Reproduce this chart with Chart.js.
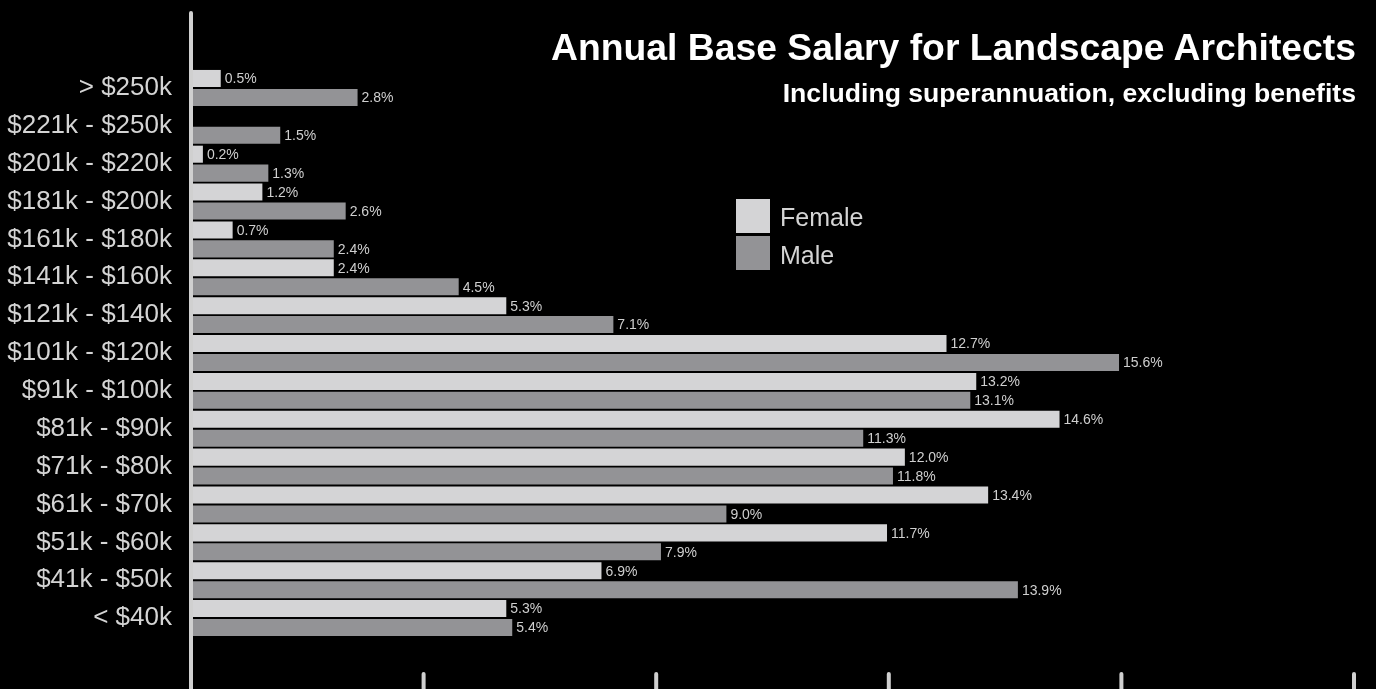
<!DOCTYPE html>
<html>
<head>
<meta charset="utf-8">
<title>Annual Base Salary for Landscape Architects</title>
<script src="https://cdn.jsdelivr.net/npm/chart.js@4/dist/chart.umd.min.js"></script>
<style>
  html, body { margin: 0; padding: 0; background: #000; }
  #wrap { position: relative; width: 1376px; height: 689px; overflow: hidden; font-family: "Liberation Sans", Arial, sans-serif; }
  #salary-chart { position: absolute; left: 0; top: 0; }
  .heading { position: absolute; right: 20px; color: #fff; font-weight: bold; line-height: 1; white-space: nowrap; }
  #title { top: 29px; font-size: 37.3px; }
  #subtitle { top: 80px; font-size: 26.6px; }
  #legend { position: absolute; left: 736px; top: 199px; }
  .legend-item { position: relative; height: 37px; }
  .legend-box { position: absolute; left: 0; top: 0; width: 34px; height: 34px; }
  .legend-text { position: absolute; left: 44px; top: 6px; color: #d4d4d4; font-size: 25px; line-height: 1; white-space: nowrap; }
  .legend-item + .legend-item .legend-text { top: 7px; }
</style>
</head>
<body>
<div id="wrap">
  <canvas id="salary-chart" width="1376" height="689"></canvas>
  <div id="title" class="heading">Annual Base Salary for Landscape Architects</div>
  <div id="subtitle" class="heading">Including superannuation, excluding benefits</div>
  <div id="legend"></div>
</div>
<script>
const salaryBands = ['> $250k', '$221k - $250k', '$201k - $220k', '$181k - $200k', '$161k - $180k',
  '$141k - $160k', '$121k - $140k', '$101k - $120k', '$91k - $100k', '$81k - $90k',
  '$71k - $80k', '$61k - $70k', '$51k - $60k', '$41k - $50k', '< $40k'];
const femaleShare = [0.5, null, 0.2, 1.2, 0.7, 2.4, 5.3, 12.7, 13.2, 14.6, 12.0, 13.4, 11.7, 6.9, 5.3];
const maleShare = [2.8, 1.5, 1.3, 2.6, 2.4, 4.5, 7.1, 15.6, 13.1, 11.3, 11.8, 9.0, 7.9, 13.9, 5.4];

const femaleColor = '#d4d4d6';
const maleColor = '#939396';
const textColor = '#d4d4d4';

// legend built from the datasets
const legendEl = document.getElementById('legend');
[['Female', femaleColor], ['Male', maleColor]].forEach(function(item) {
  const row = document.createElement('div');
  row.className = 'legend-item';
  row.innerHTML = '<div class="legend-box" style="background:' + item[1] + '"></div>' +
    '<div class="legend-text">' + item[0] + '</div>';
  legendEl.appendChild(row);
});

// percentage text at the end of each bar
const barLabels = {
  id: 'barLabels',
  afterDatasetsDraw(chart) {
    const ctx = chart.ctx;
    ctx.save();
    ctx.font = '14px "Liberation Sans", Arial, sans-serif';
    ctx.fillStyle = '#cfcfcf';
    ctx.textAlign = 'left';
    ctx.textBaseline = 'middle';
    chart.data.datasets.forEach(function(ds, i) {
      chart.getDatasetMeta(i).data.forEach(function(bar, j) {
        const v = ds.data[j];
        if (v === null) return;
        ctx.fillText(v.toFixed(1) + '%', bar.x + 4, bar.y + 1);
      });
    });
    ctx.restore();
  }
};

// long vertical axis line and the short tick marks along the bottom
const axisMarks = {
  id: 'axisMarks',
  afterDatasetsDraw(chart) {
    const ctx = chart.ctx;
    const x = chart.scales.x;
    ctx.save();
    ctx.strokeStyle = '#d0d0d0';
    ctx.lineWidth = 4;
    ctx.lineCap = 'round';
    ctx.beginPath();
    ctx.moveTo(x.getPixelForValue(0), 13);
    ctx.lineTo(x.getPixelForValue(0), chart.height + 4);
    x.ticks.forEach(function(t) {
      const px = x.getPixelForValue(t.value);
      ctx.moveTo(px, chart.height - 15);
      ctx.lineTo(px, chart.height + 4);
    });
    ctx.stroke();
    ctx.restore();
  }
};

const ctx = document.getElementById('salary-chart').getContext('2d');
const salaryChart = new Chart(ctx, {
  type: 'bar',
  data: {
    labels: salaryBands,
    datasets: [{
      label: 'Female',
      data: femaleShare,
      backgroundColor: femaleColor,
      categoryPercentage: 1,
      barPercentage: 0.9
    }, {
      label: 'Male',
      data: maleShare,
      backgroundColor: maleColor,
      categoryPercentage: 1,
      barPercentage: 0.9
    }]
  },
  options: {
    indexAxis: 'y',
    responsive: false,
    animation: false,
    layout: {
      padding: { top: 69, bottom: 52, right: 22, left: 0 }
    },
    scales: {
      x: {
        min: 0,
        max: 19.55,
        ticks: { display: false, count: 6 },
        grid: { display: false, drawTicks: false },
        border: { display: false }
      },
      y: {
        grid: { display: false, drawTicks: false },
        border: { display: false },
        ticks: {
          color: textColor,
          padding: 19,
          font: { family: '"Liberation Sans", Arial, sans-serif', size: 26 }
        },
        afterFit: function(scale) { scale.width = 191; }
      }
    },
    plugins: {
      legend: { display: false },
      tooltip: { enabled: false }
    }
  },
  plugins: [barLabels, axisMarks]
});
</script>
</body>
</html>
